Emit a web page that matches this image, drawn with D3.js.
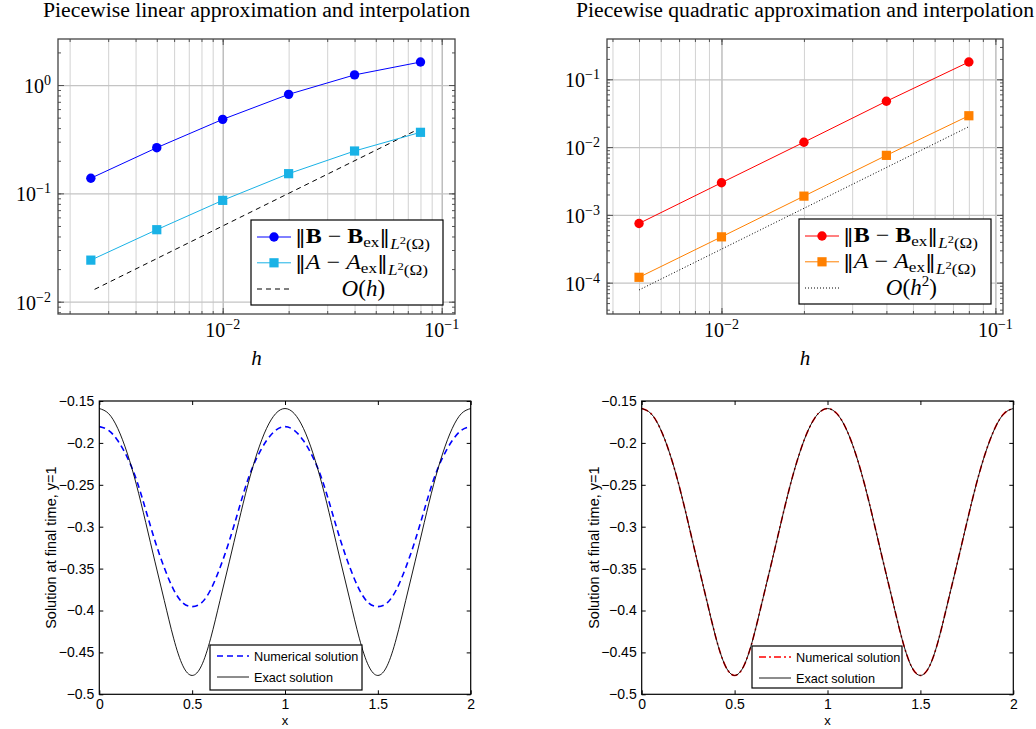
<!DOCTYPE html>
<html>
<head>
<meta charset="utf-8">
<script src="https://cdn.jsdelivr.net/npm/d3@7"></script>
<style>
  body { margin: 0; background: #fff; }
  svg { display: block; }
</style>
</head>
<body>
<script>
// convergence study, top panels
const hLinear = [0.0025, 0.005, 0.01, 0.02, 0.04, 0.08];
const errBLinear = [0.138, 0.264, 0.482, 0.82, 1.24, 1.63];
const errALinear = [0.0242, 0.0462, 0.0862, 0.152, 0.246, 0.366];
const refHLinear = [0.0026, 0.078];
const refLinear = [0.013, 0.39];

const hQuad = [0.005, 0.01, 0.02, 0.04, 0.08];
const errBQuad = [7.47e-4, 2.98e-3, 0.0118, 0.0474, 0.18];
const errAQuad = [1.2e-4, 4.74e-4, 1.89e-3, 7.55e-3, 0.029];
const refHQuad = [0.005, 0.08];
const refQuad = [7.8e-5, 0.02];

const xTickExp = [-2, -1];
const yTickExpLinear = [0, -1, -2];
const yTickExpQuad = [-1, -2, -3, -4];

// solution at final time, bottom panels
const xSol = [0, 0.05, 0.1, 0.15, 0.2, 0.25, 0.3, 0.35, 0.4, 0.45, 0.5,
  0.55, 0.6, 0.65, 0.7, 0.75, 0.8, 0.85, 0.9, 0.95, 1,
  1.05, 1.1, 1.15, 1.2, 1.25, 1.3, 1.35, 1.4, 1.45, 1.5,
  1.55, 1.6, 1.65, 1.7, 1.75, 1.8, 1.85, 1.9, 1.95, 2];
const exactSol = [-0.159, -0.165, -0.183, -0.212, -0.25, -0.295, -0.342, -0.388, -0.433, -0.466, -0.4775,
  -0.466, -0.433, -0.388, -0.342, -0.295, -0.25, -0.212, -0.183, -0.165, -0.159,
  -0.165, -0.183, -0.212, -0.25, -0.295, -0.342, -0.388, -0.433, -0.466, -0.4775,
  -0.466, -0.433, -0.388, -0.342, -0.295, -0.25, -0.212, -0.183, -0.165, -0.159];
const numLinear = [-0.1806, -0.185, -0.1975, -0.217, -0.244, -0.28, -0.317, -0.349, -0.375, -0.391, -0.3954,
  -0.391, -0.375, -0.349, -0.317, -0.28, -0.244, -0.217, -0.1975, -0.185, -0.1806,
  -0.185, -0.1975, -0.217, -0.244, -0.28, -0.317, -0.349, -0.375, -0.391, -0.3954,
  -0.391, -0.375, -0.349, -0.317, -0.28, -0.244, -0.217, -0.1975, -0.185, -0.1806];
const numQuad = [-0.159, -0.165, -0.183, -0.212, -0.25, -0.295, -0.342, -0.388, -0.433, -0.466, -0.4775,
  -0.466, -0.433, -0.388, -0.342, -0.295, -0.25, -0.212, -0.183, -0.165, -0.159,
  -0.165, -0.183, -0.212, -0.25, -0.295, -0.342, -0.388, -0.433, -0.466, -0.4775,
  -0.466, -0.433, -0.388, -0.342, -0.295, -0.25, -0.212, -0.183, -0.165, -0.159];

const solXTicks = [0, 0.5, 1, 1.5, 2];
const solXLabels = ['0', '0.5', '1', '1.5', '2'];
const solYTicks = [-0.5, -0.45, -0.4, -0.35, -0.3, -0.25, -0.2, -0.15];
const solYLabels = ['\u22120.5', '\u22120.45', '\u22120.4', '\u22120.35', '\u22120.3', '\u22120.25', '\u22120.2', '\u22120.15'];

const SERIF = '"Liberation Serif", "DejaVu Serif", serif';
const SANS = '"Liberation Sans", Arial, sans-serif';

const svg = d3.select('body')
  .append('svg')
  .attr('width', 1036)
  .attr('height', 729);

// text made of pieces with sub/superscript shifts
function mathText(parent, x, y, parts, anchor, size) {
  const base = size || 20;
  const t = parent.append('text')
    .attr('x', x)
    .attr('y', y)
    .attr('font-family', SERIF)
    .attr('font-size', base)
    .attr('text-anchor', anchor || 'start');
  let prev = 0;
  parts.forEach(p => {
    const shift = p.shift || 0;
    const s = t.append('tspan')
      .attr('dy', shift - prev)
      .attr('font-size', p.size || base)
      .text(p.t);
    if (p.bold) s.attr('font-weight', 'bold');
    if (p.it) s.attr('font-style', 'italic');
    if (p.font) s.attr('font-family', p.font);
    prev = shift;
  });
  return t;
}

function normLabel(letter, bold) {
  return [
    {t: '\u2016', font: '"DejaVu Serif"', size: 19},
    {t: letter, bold: bold, it: !bold},
    {t: ' \u2212 '},
    {t: letter, bold: bold, it: !bold},
    {t: 'ex', size: 15, shift: 4},
    {t: '\u2016', font: '"DejaVu Serif"', size: 19, shift: 0},
    {t: 'L', it: true, size: 15, shift: 6},
    {t: '2', size: 11, shift: 1},
    {t: '(\u03a9)', size: 15, shift: 6}
  ];
}

function minorValues(domain) {
  const out = [];
  const lo = Math.floor(Math.log10(domain[0]));
  const hi = Math.ceil(Math.log10(domain[1]));
  for (let k = lo; k <= hi; k++) {
    for (let m = 1; m <= 9; m++) {
      const v = m * Math.pow(10, k);
      if (v >= domain[0] && v <= domain[1]) out.push(v);
    }
  }
  return out;
}

function logPanel(cfg) {
  const g = svg.append('g');
  const x = d3.scaleLog().domain(cfg.xDomain).range([cfg.left, cfg.right]);
  const y = d3.scaleLog().domain(cfg.yDomain).range([cfg.bottom, cfg.top]);
  const w = cfg.right - cfg.left;
  const hgt = cfg.bottom - cfg.top;

  const xAll = minorValues(cfg.xDomain);
  const yAll = minorValues(cfg.yDomain);
  const xMajor = cfg.xExp.map(e => Math.pow(10, e));
  const yMajor = cfg.yExp.map(e => Math.pow(10, e));

  // grid: vertical lines at every tick, horizontal at decades only
  g.append('g')
    .attr('transform', 'translate(0,' + cfg.bottom + ')')
    .call(d3.axisBottom(x).tickValues(xAll).tickSize(-hgt).tickFormat(''))
    .call(s => s.select('.domain').remove())
    .selectAll('line')
    .attr('stroke', d => xMajor.includes(d) ? '#b4b4b4' : '#d2d2d2')
    .attr('stroke-width', d => xMajor.includes(d) ? 1.3 : 1);
  g.append('g')
    .attr('transform', 'translate(' + cfg.left + ',0)')
    .call(d3.axisLeft(y).tickValues(yMajor).tickSize(-w).tickFormat(''))
    .call(s => s.select('.domain').remove())
    .selectAll('line')
    .attr('stroke', '#c4c4c4')
    .attr('stroke-width', 1.3);

  // inward ticks on all four sides
  const tickSides = [
    [d3.axisBottom(x), 'translate(0,' + cfg.bottom + ')', xAll, xMajor],
    [d3.axisTop(x), 'translate(0,' + cfg.top + ')', xAll, xMajor],
    [d3.axisLeft(y), 'translate(' + cfg.left + ',0)', yAll, yMajor],
    [d3.axisRight(y), 'translate(' + cfg.right + ',0)', yAll, yMajor]
  ];
  tickSides.forEach(([ax, tr, vals, major]) => {
    g.append('g')
      .attr('transform', tr)
      .call(ax.tickValues(vals).tickSize(-3).tickFormat(''))
      .call(s => s.select('.domain').remove())
      .selectAll('line')
      .attr('stroke', '#555');
    g.append('g')
      .attr('transform', tr)
      .call(ax.tickValues(major).tickSize(-6).tickFormat(''))
      .call(s => s.select('.domain').remove())
      .selectAll('line')
      .attr('stroke', '#555');
  });

  g.append('rect')
    .attr('x', cfg.left)
    .attr('y', cfg.top)
    .attr('width', w)
    .attr('height', hgt)
    .attr('fill', 'none')
    .attr('stroke', '#444')
    .attr('stroke-width', 1.3);

  // tick labels 10^k
  cfg.xExp.forEach(e => {
    mathText(g, x(Math.pow(10, e)), cfg.bottom + 23, [
      {t: '10'}, {t: e < 0 ? '\u2212' + (-e) : String(e), size: 14, shift: -8}
    ], 'middle');
  });
  cfg.yExp.forEach(e => {
    mathText(g, cfg.left - 7, y(Math.pow(10, e)) + 8, [
      {t: '10'}, {t: e < 0 ? '\u2212' + (-e) : String(e), size: 14, shift: -8}
    ], 'end');
  });

  mathText(g, (cfg.left + cfg.right) / 2, cfg.bottom + 51, [{t: 'h', it: true}], 'middle', 21);

  g.append('text')
    .attr('x', (cfg.left + cfg.right) / 2)
    .attr('y', 17)
    .attr('font-family', SERIF)
    .attr('font-size', 20)
    .attr('text-anchor', 'middle')
    .attr('textLength', cfg.titleWidth)
    .attr('lengthAdjust', 'spacingAndGlyphs')
    .text(cfg.title);

  // data
  const line = d3.line().x(d => x(d[0])).y(d => y(d[1]));
  const ref = d3.zip(cfg.refH, cfg.ref);
  g.append('path')
    .attr('d', line(ref))
    .attr('fill', 'none')
    .attr('stroke', '#000')
    .attr('stroke-width', 1)
    .attr('stroke-dasharray', cfg.refDash);

  const series = [
    {vals: cfg.errA, color: cfg.colorA, marker: 'square'},
    {vals: cfg.errB, color: cfg.colorB, marker: 'circle'}
  ];
  series.forEach(s => {
    const pts = d3.zip(cfg.h, s.vals);
    g.append('path')
      .attr('d', line(pts))
      .attr('fill', 'none')
      .attr('stroke', s.color)
      .attr('stroke-width', 1);
    drawMarkers(g, pts.map(p => [x(p[0]), y(p[1])]), s.marker, s.color);
  });

  // legend
  const lg = g.append('g');
  lg.append('rect')
    .attr('x', cfg.legend.x)
    .attr('y', cfg.legend.y)
    .attr('width', cfg.legend.w)
    .attr('height', cfg.legend.h)
    .attr('fill', '#fff')
    .attr('stroke', '#000')
    .attr('stroke-width', 1.2);
  const lx0 = cfg.legend.x + 6;
  const lx1 = lx0 + 34;
  const rows = [
    {c: cfg.colorB, marker: 'circle', label: normLabel('B', true), len: 135},
    {c: cfg.colorA, marker: 'square', label: normLabel('A', false), len: 133}
  ];
  rows.forEach((r, i) => {
    const yy = cfg.legend.y + 17 + i * 25.8;
    lg.append('line')
      .attr('x1', lx0).attr('x2', lx1)
      .attr('y1', yy).attr('y2', yy)
      .attr('stroke', r.c).attr('stroke-width', 1);
    drawMarkers(lg, [[(lx0 + lx1) / 2, yy]], r.marker, r.c);
    mathText(lg, lx1 + 4, yy + 6, r.label, 'start', 21)
      .attr('textLength', r.len)
      .attr('lengthAdjust', 'spacingAndGlyphs');
  });
  const y3 = cfg.legend.y + 69;
  lg.append('line')
    .attr('x1', lx0).attr('x2', lx1)
    .attr('y1', y3).attr('y2', y3)
    .attr('stroke', '#000').attr('stroke-width', 1)
    .attr('stroke-dasharray', cfg.refDash);
  mathText(lg, cfg.legend.x + cfg.legend.w * 0.585, y3 + 7, cfg.refLabel, 'middle', 23);
}

function drawMarkers(g, pts, kind, color) {
  if (kind === 'circle') {
    g.selectAll(null)
      .data(pts)
      .enter()
      .append('circle')
      .attr('cx', d => d[0])
      .attr('cy', d => d[1])
      .attr('r', 4.7)
      .attr('fill', color);
  } else {
    g.selectAll(null)
      .data(pts)
      .enter()
      .append('rect')
      .attr('x', d => d[0] - 4.6)
      .attr('y', d => d[1] - 4.6)
      .attr('width', 9.2)
      .attr('height', 9.2)
      .attr('fill', color);
  }
}

function solPanel(cfg) {
  const g = svg.append('g');
  const x = d3.scaleLinear().domain([0, 2]).range([cfg.left, cfg.right]);
  const y = d3.scaleLinear().domain([-0.5, -0.15]).range([cfg.bottom, cfg.top]);

  const xAxis = d3.axisBottom(x).tickValues(solXTicks).tickSize(-4).tickPadding(5)
    .tickFormat((d, i) => solXLabels[i]);
  const yAxis = d3.axisLeft(y).tickValues(solYTicks).tickSize(-4).tickPadding(5)
    .tickFormat((d, i) => solYLabels[i]);

  const axes = [
    [xAxis, 'translate(0,' + cfg.bottom + ')'],
    [yAxis, 'translate(' + cfg.left + ',0)'],
    [d3.axisTop(x).tickValues(solXTicks).tickSize(-4).tickFormat(''), 'translate(0,' + cfg.top + ')'],
    [d3.axisRight(y).tickValues(solYTicks).tickSize(-4).tickFormat(''), 'translate(' + cfg.right + ',0)']
  ];
  axes.forEach(([ax, tr]) => {
    const a = g.append('g').attr('transform', tr).call(ax);
    a.select('.domain').remove();
    a.selectAll('line').attr('stroke', '#000');
    a.selectAll('text')
      .attr('font-family', SANS)
      .attr('font-size', 14)
      .attr('fill', '#000');
  });

  const line = d3.line()
    .x(d => x(d[0]))
    .y(d => y(d[1]))
    .curve(d3.curveNatural);

  g.append('path')
    .attr('d', line(d3.zip(xSol, cfg.num)))
    .attr('fill', 'none')
    .attr('stroke', cfg.numColor)
    .attr('stroke-width', 1.6)
    .attr('stroke-dasharray', cfg.numDash);
  g.append('path')
    .attr('d', line(d3.zip(xSol, exactSol)))
    .attr('fill', 'none')
    .attr('stroke', '#000')
    .attr('stroke-width', 0.9);

  g.append('rect')
    .attr('x', cfg.left)
    .attr('y', cfg.top)
    .attr('width', cfg.right - cfg.left)
    .attr('height', cfg.bottom - cfg.top)
    .attr('fill', 'none')
    .attr('stroke', '#000')
    .attr('stroke-width', 1.2);

  g.append('text')
    .attr('x', (cfg.left + cfg.right) / 2)
    .attr('y', cfg.bottom + 31)
    .attr('font-family', SANS)
    .attr('font-size', 13)
    .attr('text-anchor', 'middle')
    .text('x');

  g.append('text')
    .attr('transform', 'translate(' + (cfg.left - 43) + ',' + ((cfg.top + cfg.bottom) / 2) + ') rotate(-90)')
    .attr('font-family', SANS)
    .attr('font-size', 14.5)
    .attr('text-anchor', 'middle')
    .text('Solution at final time, y=1');

  // legend
  const L = cfg.legend;
  g.append('rect')
    .attr('x', L.x).attr('y', L.y)
    .attr('width', L.w).attr('height', L.h)
    .attr('fill', '#fff')
    .attr('stroke', '#000')
    .attr('stroke-width', 1.2);
  const items = [
    {c: cfg.numColor, dash: cfg.numDash, sw: 1.6, label: 'Numerical solution'},
    {c: '#000', dash: null, sw: 0.9, label: 'Exact solution'}
  ];
  items.forEach((it, i) => {
    const yy = L.y + 11 + i * 21;
    g.append('line')
      .attr('x1', L.x + 7).attr('x2', L.x + 39)
      .attr('y1', yy).attr('y2', yy)
      .attr('stroke', it.c)
      .attr('stroke-width', it.sw)
      .attr('stroke-dasharray', it.dash);
    g.append('text')
      .attr('x', L.x + 44)
      .attr('y', yy + 4.5)
      .attr('font-family', SANS)
      .attr('font-size', 12.7)
      .text(it.label);
  });
}

logPanel({
  title: 'Piecewise linear approximation and interpolation',
  titleWidth: 427,
  left: 58, right: 455, top: 39, bottom: 314,
  xDomain: [0.00177, 0.115], yDomain: [0.0077, 2.66],
  xExp: xTickExp, yExp: yTickExpLinear,
  h: hLinear, errB: errBLinear, errA: errALinear,
  refH: refHLinear, ref: refLinear, refDash: '5,4',
  colorB: '#0000ff', colorA: '#19b2e6',
  refLabel: [{t: 'O', it: true}, {t: '('}, {t: 'h', it: true}, {t: ')'}],
  legend: {x: 251, y: 220, w: 192, h: 85}
});

logPanel({
  title: 'Piecewise quadratic approximation and interpolation',
  titleWidth: 458,
  left: 607, right: 1003, top: 39, bottom: 314,
  xDomain: [0.00382, 0.1066], yDomain: [3.45e-5, 0.393],
  xExp: xTickExp, yExp: yTickExpQuad,
  h: hQuad, errB: errBQuad, errA: errAQuad,
  refH: refHQuad, ref: refQuad, refDash: '1,2',
  colorB: '#ff0000', colorA: '#ff8000',
  refLabel: [{t: 'O', it: true}, {t: '('}, {t: 'h', it: true}, {t: '2', size: 15, shift: -9}, {t: ')', shift: 0}],
  legend: {x: 799, y: 219, w: 192, h: 85}
});

solPanel({
  left: 99.3, right: 470.7, top: 401, bottom: 694.3,
  num: numLinear, numColor: '#0000ff', numDash: '6,4',
  legend: {x: 210, y: 645, w: 152, h: 45}
});

solPanel({
  left: 641.7, right: 1013.3, top: 401, bottom: 694.3,
  num: numQuad, numColor: '#ff0000', numDash: '7,3,2,3',
  legend: {x: 752, y: 646, w: 150, h: 42}
});
</script>
</body>
</html>
